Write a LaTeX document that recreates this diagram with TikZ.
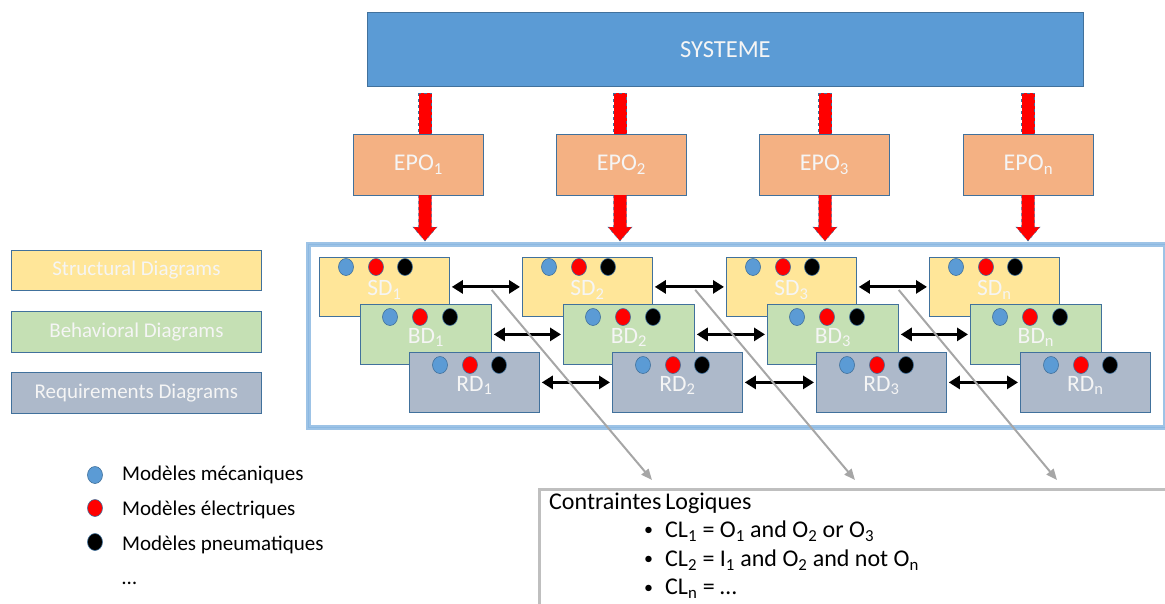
\documentclass[tikz,border=0pt]{standalone}
\usepackage{fontspec}
\setmainfont{Carlito}
\usetikzlibrary{arrows.meta,calc}
\definecolor{sysblue}{HTML}{5B9BD5}
\definecolor{edgeblue}{HTML}{41719C}
\definecolor{epofill}{HTML}{F4B183}
\definecolor{sdfill}{HTML}{FFE699}
\definecolor{bdfill}{HTML}{C5E0B4}
\definecolor{rdfill}{HTML}{ADB9CA}
\definecolor{grpblue}{HTML}{9DC3E6}
\definecolor{linegray}{HTML}{A6A6A6}
\definecolor{clgray}{HTML}{BFBFBF}
\newcommand\lsub[1]{\textsubscript{#1}}
\tikzset{
  pbox/.style={draw=edgeblue, line width=0.8pt, anchor=north west, inner sep=0pt, text=white!92!gray},
  sdbox/.style={pbox, fill=sdfill, minimum width=130pt, minimum height=59pt},
  bdbox/.style={pbox, fill=bdfill, minimum width=131pt, minimum height=60pt},
  rdbox/.style={pbox, fill=rdfill, minimum width=130pt, minimum height=60pt},
  epobox/.style={pbox, fill=epofill, minimum width=130pt, minimum height=61pt, font=\fontsize{24}{28}\selectfont},
  lbl/.style={text=white!92!gray, font=\fontsize{23.5}{28}\selectfont, inner sep=0pt},
  legbox/.style={pbox, minimum width=250pt, minimum height=40pt, font=\fontsize{21}{25}\selectfont},
  bdot/.style={fill=sysblue, draw=edgeblue, line width=0.6pt},
  rdot/.style={fill=red, draw=edgeblue, line width=0.6pt},
  kdot/.style={fill=black, draw=edgeblue, line width=0.6pt},
  redarrow/.style={draw=edgeblue, dashed, line width=0.5pt, fill=red},
  dblarrow/.style={{Triangle[length=11pt,width=13pt]}-{Triangle[length=11pt,width=13pt]}, line width=3pt, black, shorten <=2pt, shorten >=2pt},
  grayarrow/.style={-{Triangle[length=11pt,width=9pt]}, line width=2pt, linegray},
  txt/.style={anchor=west, inner sep=0pt, font=\fontsize{21}{25}\selectfont},
  cltxt/.style={anchor=west, inner sep=0pt, font=\fontsize{24}{28}\selectfont},
}
\begin{document}
\begin{tikzpicture}[x=1pt,y=-1pt]
\useasboundingbox (0,0) rectangle (1165,603);
% system
\node[pbox, fill=sysblue, minimum width=716pt, minimum height=74pt, font=\fontsize{24.5}{28}\selectfont] (sys) at (367,12) {SYSTEME};
% group box
\node[draw=grpblue, line width=5pt, anchor=north west, minimum width=857pt, minimum height=183pt, inner sep=0pt] (grp) at (306,242) {};
\draw[sysblue!70, line width=1pt] ($(grp.north west)+(2.5,2.5)$) rectangle ($(grp.south east)+(-2.5,-2.5)$);
% red arrows and EPO boxes
\foreach \i/\lab/\ex/\ax in {1/1/353/425, 2/2/556/620, 3/3/759/825, 4/n/963/1028}{
  \path[redarrow] (\ax-6.5,93) rectangle (\ax+6.5,150);
  \node[epobox] (epo\i) at (\ex,134) {EPO\lsub{\lab}};
  \path[redarrow] (\ax-6.5,195) -- (\ax-6.5,227) -- (\ax-12,227) -- (\ax,241) -- (\ax+12,227) -- (\ax+6.5,227) -- (\ax+6.5,195);
}
% diagram boxes
\foreach \i/\lab/\sx/\bx/\rx in {1/1/319/360/409, 2/2/522/563/612, 3/3/726/767/816, 4/n/929/970/1020}{
  \node[sdbox] (sd\i) at (\sx,257) {};
  \node[lbl] at ($(sd\i.center)+(0,3)$) {SD\lsub{\lab}};
  \foreach \d/\s in {27/bdot,57/rdot,86/kdot}{ \path[\s] (\sx+\d,267) ellipse (7.5pt and 8.5pt); }
  \node[bdbox] (bd\i) at (\bx,304) {};
  \node[lbl] at ($(bd\i.center)+(0,3)$) {BD\lsub{\lab}};
  \foreach \d/\s in {30/bdot,60/rdot,90/kdot}{ \path[\s] (\bx+\d,317) ellipse (7.5pt and 8.5pt); }
  \node[rdbox] (rd\i) at (\rx,352) {};
  \node[lbl] at ($(rd\i.center)+(0,3)$) {RD\lsub{\lab}};
  \foreach \d/\s in {31/bdot,61/rdot,90/kdot}{ \path[\s] (\rx+\d,365) ellipse (7.5pt and 8.5pt); }
}
% double arrows
\foreach \a/\b in {1/2,2/3,3/4}{
  \draw[dblarrow] (sd\a.east) -- (sd\b.west);
  \draw[dblarrow] (bd\a.east) -- (bd\b.west);
  \draw[dblarrow] (rd\a.east) -- (rd\b.west);
}
% constraints box
\node[draw=clgray, line width=3pt, anchor=north west, minimum width=650pt, minimum height=140pt, inner sep=0pt] (cl) at (538,488) {};
\node[cltxt] (cltitle) at (549,503) {Contraintes\,Logiques};
\foreach \y/\t in {531/{CL\lsub{1} = O\lsub{1} and O\lsub{2} or O\lsub{3}}, 560/{CL\lsub{2} = I\lsub{1} and O\lsub{2} and not O\lsub{n}}, 589/{CL\lsub{n} = \dots}}{
  \node[cltxt, font=\fontsize{18}{20}\selectfont] at (644,\y) {•};
  \node[cltxt] at (665,\y) {\t};
}
% gray arrows
\foreach \a/\b/\k/\dx in {1/2/1/114, 2/3/2/317, 3/4/3/519}{
  \coordinate (gs\k) at ($(sd\a.east)!0.58!(sd\b.west)+(0,3)$);
  \coordinate (ge\k) at ($(cl.north west)+(\dx,-8)$);
  \draw[grayarrow] (gs\k) -- (ge\k);
}
% legend boxes
\node[legbox, fill=sdfill] (lsd) at (11,250) {Structural Diagrams};
\node[legbox, fill=bdfill, minimum height=41pt] (lbd) at (11,311) {Behavioral Diagrams};
\node[legbox, fill=rdfill, minimum height=41pt] (lrd) at (11,372) {Requirements Diagrams};
% legend dots
\path[bdot] (95,475) ellipse (7.5pt and 8.5pt);
\path[rdot] (95,508) ellipse (7.5pt and 8.5pt);
\path[kdot] (95,542) ellipse (7.5pt and 8.5pt);
\node[txt] (m1) at (122,475) {Modèles mécaniques};
\node[txt] (m2) at (122,510) {Modèles électriques};
\node[txt] (m3) at (122,545) {Modèles pneumatiques};
\node[txt] (m4) at (122,583) {\dots};
\end{tikzpicture}
\end{document}
